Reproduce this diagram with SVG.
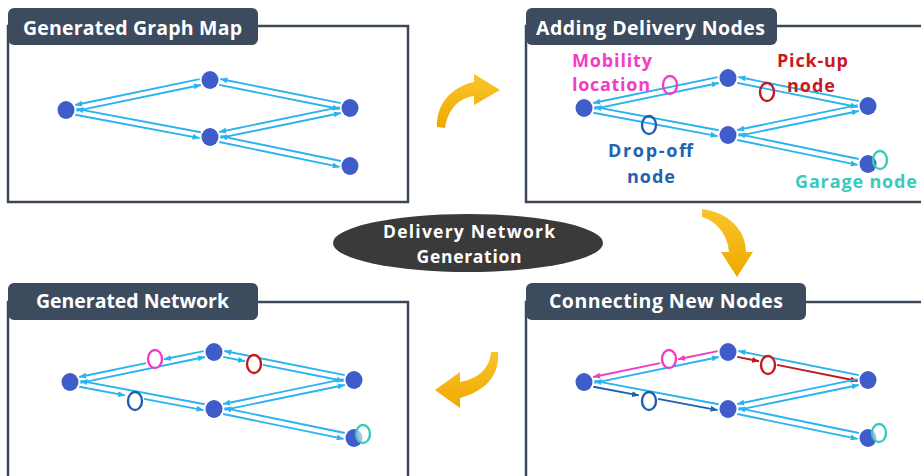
<svg xmlns="http://www.w3.org/2000/svg" width="921" height="476" viewBox="0 0 921 476">
  <defs>
    <style>
      .frame { fill: #ffffff; stroke: #3c4757; stroke-width: 2.5; }
      .tab { fill: #3d4b5f; }
      .title { font-family: "Open Sans", "Liberation Sans", sans-serif; font-weight: 700; font-size: 19.5px; fill: #ffffff; }
      .badge { font-family: "Open Sans", "Liberation Sans", sans-serif; font-weight: 700; font-size: 17.5px; fill: #ffffff; }
      .lbl { font-family: "Open Sans", "Liberation Sans", sans-serif; font-weight: 700; font-size: 18px; }
      .node { fill: #3f5cc8; }
      .e { stroke: #2ab3ee; stroke-width: 1.9; fill: none; marker-end: url(#ah-sky); }
      .e-pink { stroke: #f23cc6; stroke-width: 1.9; fill: none; marker-end: url(#ah-pink); }
      .e-red { stroke: #c0191e; stroke-width: 1.9; fill: none; marker-end: url(#ah-red); }
      .e-blue { stroke: #1f5fb0; stroke-width: 1.9; fill: none; marker-end: url(#ah-blue); }
      .ring { stroke-width: 2.4; }
      .arrow { fill: url(#gold); }
    </style>
    <marker id="ah-sky" viewBox="0 0 7 6" refX="7" refY="3" markerWidth="7" markerHeight="6" markerUnits="userSpaceOnUse" orient="auto"><path d="M0,0 L7,3 L0,6 Z" fill="#2ab3ee"/></marker>
    <marker id="ah-pink" viewBox="0 0 7 6" refX="7" refY="3" markerWidth="7" markerHeight="6" markerUnits="userSpaceOnUse" orient="auto"><path d="M0,0 L7,3 L0,6 Z" fill="#f23cc6"/></marker>
    <marker id="ah-red" viewBox="0 0 7 6" refX="7" refY="3" markerWidth="7" markerHeight="6" markerUnits="userSpaceOnUse" orient="auto"><path d="M0,0 L7,3 L0,6 Z" fill="#c0191e"/></marker>
    <marker id="ah-blue" viewBox="0 0 7 6" refX="7" refY="3" markerWidth="7" markerHeight="6" markerUnits="userSpaceOnUse" orient="auto"><path d="M0,0 L7,3 L0,6 Z" fill="#1f5fb0"/></marker>
    <linearGradient id="gold" x1="0" y1="0" x2="0" y2="1">
      <stop offset="0" stop-color="#f9c52a"/>
      <stop offset="1" stop-color="#f0a800"/>
    </linearGradient>
  </defs>

  <rect width="921" height="476" fill="#ffffff"/>

  <!-- Panel 1: Generated Graph Map -->
  <g id="panel-graph-map">
    <rect class="frame" x="8" y="26" width="400" height="176"/>
    <rect class="tab" x="8" y="8" width="250" height="37" rx="6"/>
    <text class="title" x="23" y="35" textLength="219" lengthAdjust="spacing">Generated Graph Map</text>
    <g transform="translate(0,0)">
      <g id="p1-edges">
        <line class="e" x1="76.4" y1="110.9" x2="200.8" y2="85"/>
        <line class="e" x1="199.6" y1="79.1" x2="75.2" y2="105"/>
        <line class="e" x1="75.3" y1="114.8" x2="199.6" y2="138.1"/>
        <line class="e" x1="200.7" y1="132.2" x2="76.4" y2="108.9"/>
        <line class="e" x1="219.2" y1="84.9" x2="339.6" y2="109"/>
        <line class="e" x1="340.8" y1="103.1" x2="220.4" y2="79"/>
        <line class="e" x1="220.4" y1="137.9" x2="340.8" y2="113"/>
        <line class="e" x1="339.6" y1="107.1" x2="219.2" y2="132"/>
        <line class="e" x1="219.2" y1="142" x2="339.6" y2="166.9"/>
        <line class="e" x1="340.8" y1="161" x2="220.4" y2="136.1"/>
      </g>
      <g id="p1-node-a"><ellipse class="node" cx="66" cy="110" rx="8.5" ry="9"/></g>
      <g id="p1-node-b"><ellipse class="node" cx="210" cy="80" rx="8.5" ry="9"/></g>
      <g id="p1-node-c"><ellipse class="node" cx="210" cy="137" rx="8.5" ry="9"/></g>
      <g id="p1-node-d"><ellipse class="node" cx="350" cy="108" rx="8.5" ry="9"/></g>
      <g id="p1-node-e"><ellipse class="node" cx="350" cy="166" rx="8.5" ry="9"/></g>
    </g>
  </g>

  <!-- Panel 2: Adding Delivery Nodes -->
  <g id="panel-adding-nodes">
    <rect class="frame" x="526" y="26" width="420" height="176"/>
    <rect class="tab" x="526" y="8" width="251" height="37" rx="6"/>
    <text class="title" x="536" y="35" textLength="229" lengthAdjust="spacing">Adding Delivery Nodes</text>
    <g transform="translate(518,-2)">
      <g id="p2-edges">
        <line class="e" x1="76.4" y1="110.9" x2="200.8" y2="85"/>
        <line class="e" x1="199.6" y1="79.1" x2="75.2" y2="105"/>
        <line class="e" x1="75.3" y1="114.8" x2="199.6" y2="138.1"/>
        <line class="e" x1="200.7" y1="132.2" x2="76.4" y2="108.9"/>
        <line class="e" x1="219.2" y1="84.9" x2="339.6" y2="109"/>
        <line class="e" x1="340.8" y1="103.1" x2="220.4" y2="79"/>
        <line class="e" x1="220.4" y1="137.9" x2="340.8" y2="113"/>
        <line class="e" x1="339.6" y1="107.1" x2="219.2" y2="132"/>
        <line class="e" x1="219.2" y1="142" x2="339.6" y2="166.9"/>
        <line class="e" x1="340.8" y1="161" x2="220.4" y2="136.1"/>
      </g>
      <g id="p2-node-a"><ellipse class="node" cx="66" cy="110" rx="8.5" ry="9"/></g>
      <g id="p2-node-b"><ellipse class="node" cx="210" cy="80" rx="8.5" ry="9"/></g>
      <g id="p2-node-c"><ellipse class="node" cx="210" cy="137" rx="8.5" ry="9"/></g>
      <g id="p2-node-d"><ellipse class="node" cx="350" cy="108" rx="8.5" ry="9"/></g>
      <g id="p2-node-e"><ellipse class="node" cx="350" cy="166" rx="8.5" ry="9"/></g>
      <g id="p2-mobility"><ellipse class="ring" cx="152" cy="87" rx="7" ry="9" fill="none" stroke="#f23cc6"/></g>
      <g id="p2-pickup"><ellipse class="ring" cx="249" cy="94" rx="7" ry="9" fill="none" stroke="#c0191e"/></g>
      <g id="p2-dropoff"><ellipse class="ring" cx="131" cy="127" rx="7" ry="9" fill="none" stroke="#1f5fb0"/></g>
      <g id="p2-garage"><ellipse class="ring" cx="362" cy="162" rx="7" ry="9" fill="none" stroke="#3cc9bd"/></g>
    </g>
    <text class="lbl" x="572" y="67" fill="#f23cc6" textLength="80" lengthAdjust="spacing">Mobility</text>
    <text class="lbl" x="572" y="91" fill="#f23cc6" textLength="78" lengthAdjust="spacing">location</text>
    <text class="lbl" x="777" y="67" fill="#c8191e" textLength="71" lengthAdjust="spacing">Pick-up</text>
    <text class="lbl" x="787" y="92" fill="#c8191e" textLength="48" lengthAdjust="spacing">node</text>
    <text class="lbl" x="608" y="157" fill="#2262b0" textLength="85" lengthAdjust="spacing">Drop-off</text>
    <text class="lbl" x="627" y="183" fill="#2262b0" textLength="48" lengthAdjust="spacing">node</text>
    <text class="lbl" x="795" y="188" fill="#3cc9bd" textLength="122" lengthAdjust="spacing">Garage node</text>
  </g>

  <!-- Panel 3: Generated Network -->
  <g id="panel-generated-network">
    <rect class="frame" x="8" y="302" width="400" height="200"/>
    <rect class="tab" x="8" y="283" width="250" height="37" rx="6"/>
    <text class="title" x="36" y="308" textLength="193" lengthAdjust="spacing">Generated Network</text>
    <g transform="translate(4,272)">
      <g id="p3-edges">
        <line class="e" x1="76.4" y1="110.9" x2="200.8" y2="85"/>
        <line class="e" x1="199.6" y1="79.1" x2="160" y2="87.3"/>
        <line class="e" x1="142" y1="91.1" x2="75.2" y2="105"/>
        <line class="e" x1="75.3" y1="114.8" x2="121" y2="123.4"/>
        <line class="e" x1="140" y1="126.9" x2="199.6" y2="138.1"/>
        <line class="e" x1="200.7" y1="132.2" x2="76.4" y2="108.9"/>
        <line class="e" x1="219.2" y1="84.9" x2="241" y2="89.3"/>
        <line class="e" x1="259" y1="92.9" x2="339.6" y2="109"/>
        <line class="e" x1="340.8" y1="103.1" x2="220.4" y2="79"/>
        <line class="e" x1="220.4" y1="137.9" x2="340.8" y2="113"/>
        <line class="e" x1="339.6" y1="107.1" x2="219.2" y2="132"/>
        <line class="e" x1="219.2" y1="142" x2="339.6" y2="166.9"/>
        <line class="e" x1="340.8" y1="161" x2="220.4" y2="136.1"/>
      </g>
      <g id="p3-node-a"><ellipse class="node" cx="66" cy="110" rx="8.5" ry="9"/></g>
      <g id="p3-node-b"><ellipse class="node" cx="210" cy="80" rx="8.5" ry="9"/></g>
      <g id="p3-node-c"><ellipse class="node" cx="210" cy="137" rx="8.5" ry="9"/></g>
      <g id="p3-node-d"><ellipse class="node" cx="350" cy="108" rx="8.5" ry="9"/></g>
      <g id="p3-node-e"><ellipse class="node" cx="350" cy="166" rx="8.5" ry="9"/></g>
      <g id="p3-mobility"><ellipse class="ring" cx="151" cy="87" rx="7" ry="9" fill="#ffffff" stroke="#f23cc6"/></g>
      <g id="p3-pickup"><ellipse class="ring" cx="250" cy="92" rx="7" ry="9" fill="#ffffff" stroke="#c0191e"/></g>
      <g id="p3-dropoff"><ellipse class="ring" cx="131" cy="129" rx="7" ry="9" fill="#ffffff" stroke="#1f5fb0"/></g>
      <g id="p3-garage"><ellipse class="ring" cx="359" cy="162" rx="7" ry="9" fill="#ffffff" fill-opacity="0.6" stroke="#3cc9bd"/></g>
    </g>
  </g>

  <!-- Panel 4: Connecting New Nodes -->
  <g id="panel-connecting">
    <rect class="frame" x="526" y="302" width="420" height="200"/>
    <rect class="tab" x="526" y="283" width="280" height="37" rx="6"/>
    <text class="title" x="549" y="308" textLength="234" lengthAdjust="spacing">Connecting New Nodes</text>
    <g transform="translate(518,272)">
      <g id="p4-edges">
        <line class="e" x1="76.4" y1="110.9" x2="200.8" y2="85"/>
        <line class="e-pink" x1="199.6" y1="79.1" x2="160" y2="87.3"/>
        <line class="e-pink" x1="142" y1="91.1" x2="75.2" y2="105"/>
        <line class="e-blue" x1="75.3" y1="114.8" x2="121" y2="123.4"/>
        <line class="e-blue" x1="140" y1="126.9" x2="199.6" y2="138.1"/>
        <line class="e" x1="200.7" y1="132.2" x2="76.4" y2="108.9"/>
        <line class="e-red" x1="219.2" y1="84.9" x2="241" y2="89.3"/>
        <line class="e-red" x1="259" y1="92.9" x2="339.6" y2="109"/>
        <line class="e" x1="340.8" y1="103.1" x2="220.4" y2="79"/>
        <line class="e" x1="220.4" y1="137.9" x2="340.8" y2="113"/>
        <line class="e" x1="339.6" y1="107.1" x2="219.2" y2="132"/>
        <line class="e" x1="219.2" y1="142" x2="339.6" y2="166.9"/>
        <line class="e" x1="340.8" y1="161" x2="220.4" y2="136.1"/>
      </g>
      <g id="p4-node-a"><ellipse class="node" cx="66" cy="110" rx="8.5" ry="9"/></g>
      <g id="p4-node-b"><ellipse class="node" cx="210" cy="80" rx="8.5" ry="9"/></g>
      <g id="p4-node-c"><ellipse class="node" cx="210" cy="137" rx="8.5" ry="9"/></g>
      <g id="p4-node-d"><ellipse class="node" cx="350" cy="108" rx="8.5" ry="9"/></g>
      <g id="p4-node-e"><ellipse class="node" cx="350" cy="166" rx="8.5" ry="9"/></g>
      <g id="p4-mobility"><ellipse class="ring" cx="151" cy="87" rx="7" ry="9" fill="#ffffff" stroke="#f23cc6"/></g>
      <g id="p4-pickup"><ellipse class="ring" cx="250" cy="93" rx="7" ry="9" fill="#ffffff" stroke="#c0191e"/></g>
      <g id="p4-dropoff"><ellipse class="ring" cx="131" cy="129" rx="7" ry="9" fill="#ffffff" stroke="#1f5fb0"/></g>
      <g id="p4-garage"><ellipse class="ring" cx="361" cy="161" rx="7" ry="9" fill="#ffffff" fill-opacity="0.6" stroke="#3cc9bd"/></g>
    </g>
  </g>

  <!-- Centre label -->
  <g id="center-label">
    <ellipse cx="468" cy="243" rx="135" ry="29" fill="#3a3a3a"/>
    <text class="badge" x="469" y="238" text-anchor="middle" textLength="172" lengthAdjust="spacing">Delivery Network</text>
    <text class="badge" x="469" y="263" text-anchor="middle" textLength="105" lengthAdjust="spacing">Generation</text>
  </g>

  <!-- Flow arrows between panels -->
  <g id="flow-arrows">
    <path class="arrow" d="M437,127 C436,106 450,87 474,82 L474,74 L500,90 L474,105 L474,96 C458,98 448,110 445,128 Z"/>
    <path class="arrow" d="M702,209 C726,212 746,228 746,252 L753,252 L737,277 L721,252 L729,252 C728,236 718,222 702,217 Z"/>
    <path class="arrow" d="M498,352 C500,376 485,391 460,398 L460,408 L435,390 L460,372 L460,382 C478,379 490,368 491,352 Z"/>
  </g>
</svg>
